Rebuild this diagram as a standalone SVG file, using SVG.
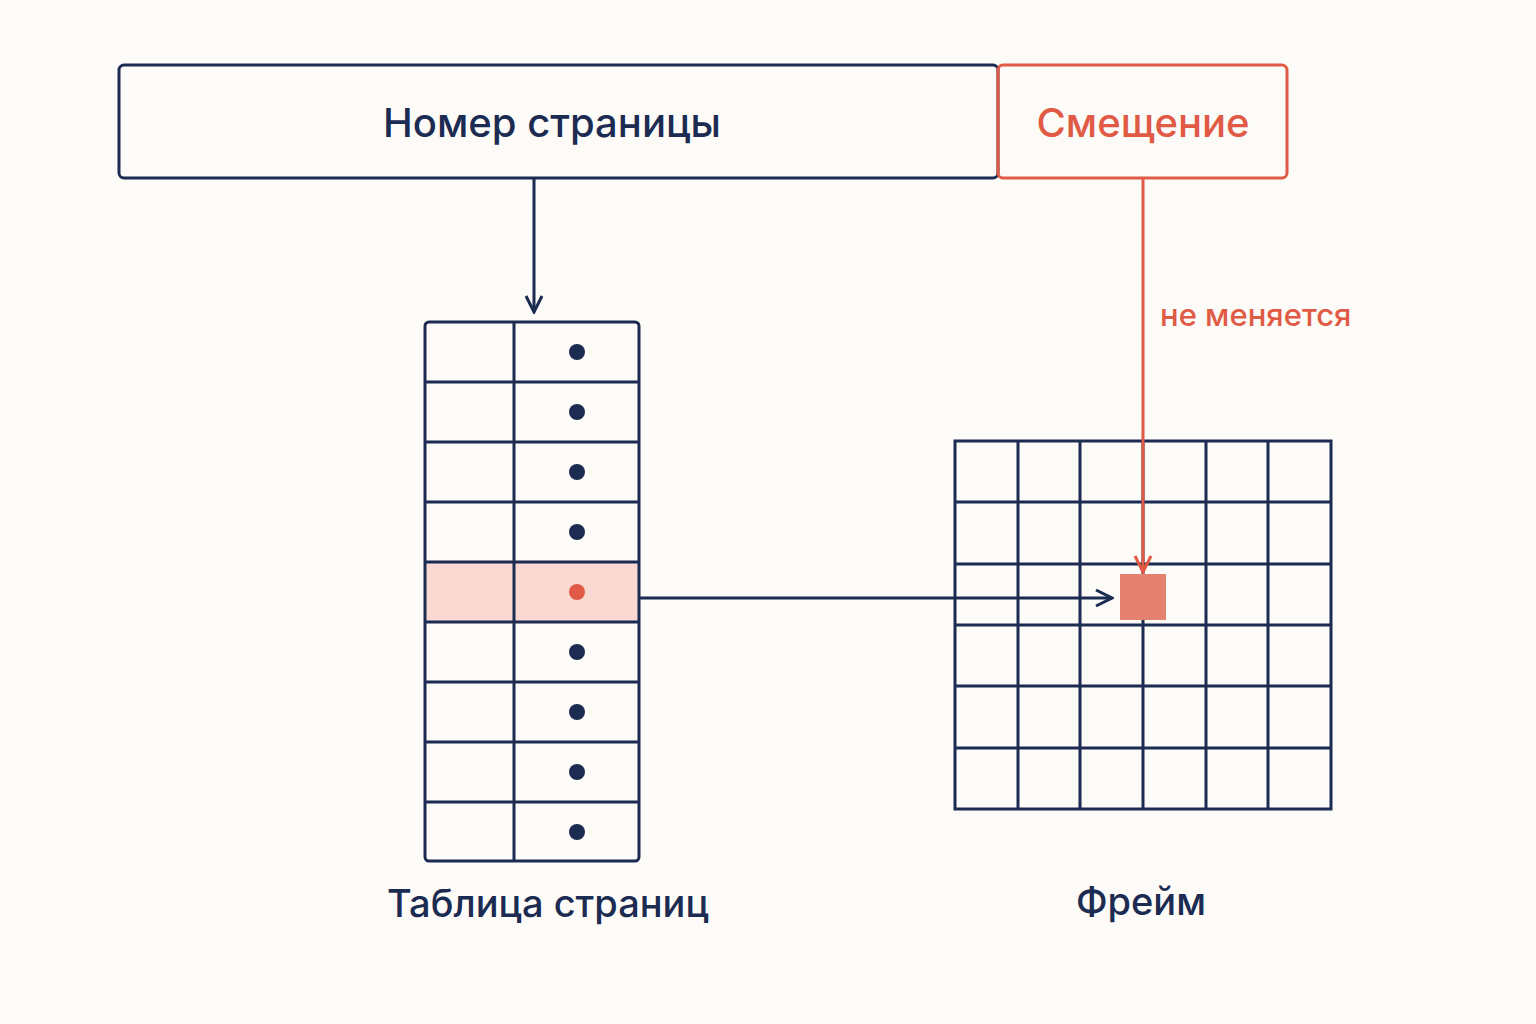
<svg xmlns="http://www.w3.org/2000/svg" width="1536" height="1024" viewBox="0 0 1536 1024">
<style>
.n{fill:none;stroke:#1c2b52;stroke-width:3}
.r{fill:none;stroke:#e05a45;stroke-width:3}
.t{font-family:"Inter","Noto Sans",sans-serif;font-weight:500}
</style>
<defs>
<marker id="an" viewBox="0 0 20 20" refX="18" refY="10" markerWidth="20" markerHeight="20" markerUnits="userSpaceOnUse" orient="auto"><path d="M2,2 L18,10 L2,18" fill="none" stroke="#1c2b52" stroke-width="3"/></marker>
<marker id="ar" viewBox="0 0 20 20" refX="18" refY="10" markerWidth="20" markerHeight="20" markerUnits="userSpaceOnUse" orient="auto"><path d="M2,2 L18,10 L2,18" fill="none" stroke="#e05a45" stroke-width="3"/></marker>
</defs>
<rect width="1536" height="1024" fill="#fcfbf8"/>
<g id="page">
<rect x="119" y="65" width="879" height="113" rx="5" fill="#fff" class="n"/>
<text x="552" y="137" text-anchor="middle" font-size="40" fill="#1c2b52" class="t">Номер страницы</text>
</g>
<g id="offset">
<rect x="998" y="65" width="289" height="113" rx="5" fill="#fff" class="r"/>
<text x="1143" y="137" text-anchor="middle" font-size="40" fill="#e05a45" class="t">Смещение</text>
</g>
<g id="table">
<rect x="425" y="562" width="214" height="60" fill="#f9d9d2"/>
<rect x="425" y="322" width="214" height="539" rx="4" class="n"/>
<path class="n" d="M514,322V861M425,382H639M425,442H639M425,502H639M425,562H639M425,622H639M425,682H639M425,742H639M425,802H639"/>
<g fill="#1c2b52">
<circle cx="577" cy="352" r="8"/><circle cx="577" cy="412" r="8"/><circle cx="577" cy="472" r="8"/><circle cx="577" cy="532" r="8"/>
<circle cx="577" cy="592" r="8" fill="#e05a45"/>
<circle cx="577" cy="652" r="8"/><circle cx="577" cy="712" r="8"/><circle cx="577" cy="772" r="8"/><circle cx="577" cy="832" r="8"/>
</g>
<text x="548" y="917" text-anchor="middle" font-size="38" fill="#1c2b52" class="t">Таблица страниц</text>
</g>
<g id="frame">
<rect x="955" y="441" width="376" height="368" class="n"/>
<path class="n" d="M1018,441V809M1080,441V809M1143,441V809M1206,441V809M1268,441V809M955,502H1331M955,564H1331M955,625H1331M955,686H1331M955,748H1331"/>
<rect x="1120" y="574" width="46" height="46" fill="#e5826f"/>
<text x="1141" y="915" text-anchor="middle" font-size="38" fill="#1c2b52" class="t">Фрейм</text>
</g>
<g id="connectors">
<path class="n" d="M534,178V312" marker-end="url(#an)"/>
<path class="n" d="M639,598H1112" marker-end="url(#an)"/>
<path class="r" d="M1143,178V572" marker-end="url(#ar)"/>
<text x="1160" y="326" font-size="31" fill="#e05a45" class="t">не меняется</text>
</g>
</svg>
